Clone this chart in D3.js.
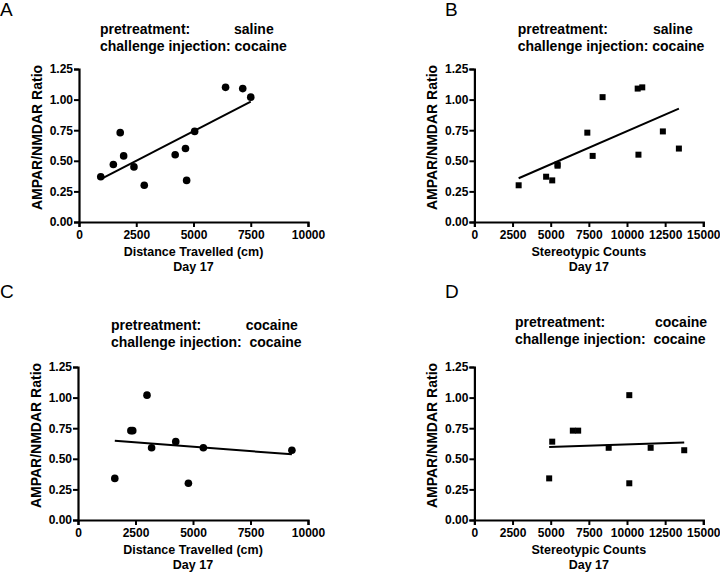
<!DOCTYPE html>
<html><head><meta charset="utf-8">
<script src="https://cdn.jsdelivr.net/npm/d3@7"></script>
<style>body{margin:0;background:#fff}svg{display:block}text{font-family:Arial,"Liberation Sans",sans-serif;fill:#000}</style>
</head><body>
<svg id="c" width="720" height="572"></svg>
<script>
// Data
const yTicks = [0, 0.25, 0.5, 0.75, 1.0, 1.25];
const distTicks = [0, 2500, 5000, 7500, 10000];
const stereoTicks = [0, 2500, 5000, 7500, 10000, 12500, 15000];

const aDistance = [950, 1500, 1800, 1950, 2400, 2850, 4200, 4650, 4700, 5050, 6400, 7150, 7500];
const aRatio    = [0.37, 0.47, 0.73, 0.54, 0.45, 0.30, 0.55, 0.60, 0.34, 0.74, 1.10, 1.09, 1.02];

const bStereo = [2900, 4700, 5100, 5450, 5450, 7400, 7750, 8400, 10700, 11000, 10750, 12350, 13400];
const bRatio  = [0.30, 0.37, 0.34, 0.47, 0.46, 0.73, 0.54, 1.02, 1.09, 1.10, 0.55, 0.74, 0.60];

const cDistance = [1600, 2300, 2380, 3000, 3200, 4250, 4800, 5450, 9300];
const cRatio    = [0.34, 0.73, 0.73, 1.02, 0.59, 0.64, 0.30, 0.59, 0.57];

const dStereo = [4900, 5100, 6450, 6800, 8800, 10150, 10150, 11550, 13750];
const dRatio  = [0.34, 0.64, 0.73, 0.73, 0.59, 1.02, 0.30, 0.59, 0.57];

const panels = [
  {label:"A", xs:aDistance, ys:aRatio, ticks:distTicks, xmax:10000, xTitle:"Distance Travelled (cm)", marker:"circle",
   pre:"saline", ch:"challenge injection: cocaine", box:{l:79, r:308, t:69, b:222}, lab:[0,16], title:[100, 34, 234]},
  {label:"B", xs:bStereo, ys:bRatio, ticks:stereoTicks, xmax:15000, xTitle:"Stereotypic Counts", marker:"square",
   pre:"saline", ch:"challenge injection: cocaine", box:{l:474.4, r:703.3, t:69, b:222}, lab:[445,16], title:[517.7, 34, 653]},
  {label:"C", xs:cDistance, ys:cRatio, ticks:distTicks, xmax:10000, xTitle:"Distance Travelled (cm)", marker:"circle",
   pre:"cocaine", ch:"challenge injection:  cocaine", box:{l:78, r:308, t:367, b:520}, lab:[0,298], title:[111, 330, 245.7]},
  {label:"D", xs:dStereo, ys:dRatio, ticks:stereoTicks, xmax:15000, xTitle:"Stereotypic Counts", marker:"square",
   pre:"cocaine", ch:"challenge injection:  cocaine", box:{l:474.4, r:703.3, t:367, b:520}, lab:[445,298], title:[515, 327, 655]}
];

const svg = d3.select("#c");

function fit(xs, ys){
  const mx = d3.mean(xs), my = d3.mean(ys);
  let sxy=0, sxx=0;
  xs.forEach((x,i)=>{ sxy += (x-mx)*(ys[i]-my); sxx += (x-mx)*(x-mx); });
  const m = sxy/sxx; return {m, b: my - m*mx};
}

panels.forEach(p => {
  const g = svg.append("g");
  const x = d3.scaleLinear().domain([0, p.xmax]).range([p.box.l, p.box.r]);
  const y = d3.scaleLinear().domain([0, 1.25]).range([p.box.b, p.box.t]);

  g.append("text").attr("x", p.lab[0]).attr("y", p.lab[1]).attr("font-size", 19).text(p.label);

  g.append("text").attr("x", p.title[0]).attr("y", p.title[1]).attr("font-size", 14).attr("font-weight","bold").text("pretreatment:");
  g.append("text").attr("x", p.title[2]).attr("y", p.title[1]).attr("font-size", 14).attr("font-weight","bold").text(p.pre);
  g.append("text").attr("x", p.title[0]).attr("y", p.title[1]+17).attr("font-size", 14).attr("font-weight","bold")
    .style("white-space","pre").attr("xml:space","preserve").text(p.ch);

  const xa = g.append("g").attr("transform", `translate(0,${p.box.b})`)
    .call(d3.axisBottom(x).tickValues(p.ticks).tickFormat(d3.format("d")).tickSizeOuter(0).tickSize(5).tickPadding(3));
  const ya = g.append("g").attr("transform", `translate(${p.box.l},0)`)
    .call(d3.axisLeft(y).tickValues(yTicks).tickFormat(d3.format(".2f")).tickSizeOuter(0).tickSize(5).tickPadding(1));
  [xa, ya].forEach(a => {
    a.select(".domain").attr("stroke","#000").attr("stroke-width",2.2);
    a.selectAll(".tick line").attr("stroke","#000").attr("stroke-width",2);
    a.selectAll(".tick text").attr("font-size",12).attr("font-weight","bold").attr("fill","#000")
      .style("font-family","Arial, 'Liberation Sans', sans-serif");
  });

  const cx = (p.box.l + p.box.r)/2;
  g.append("text").attr("x", cx).attr("y", p.box.b + 34).attr("text-anchor","middle").attr("font-size",12.5).attr("font-weight","bold").text(p.xTitle);
  g.append("text").attr("x", cx).attr("y", p.box.b + 49).attr("text-anchor","middle").attr("font-size",12.5).attr("font-weight","bold").text("Day 17");

  const yc = (p.box.t + p.box.b)/2 - 8;
  g.append("text").attr("transform", `translate(${p.box.l - 37},${yc}) rotate(-90)`).attr("text-anchor","middle")
    .attr("font-size",14).attr("font-weight","bold").text("AMPAR/NMDAR Ratio");

  const f = fit(p.xs, p.ys);
  const x0 = d3.min(p.xs), x1 = d3.max(p.xs);
  g.append("line").attr("x1", x(x0)).attr("y1", y(f.m*x0+f.b)).attr("x2", x(x1)).attr("y2", y(f.m*x1+f.b))
    .attr("stroke","#000").attr("stroke-width",2);

  const pts = p.xs.map((v,i)=>[v, p.ys[i]]);
  if (p.marker === "circle") {
    g.selectAll("circle.pt").data(pts).join("circle").attr("class","pt")
      .attr("cx", d=>x(d[0])).attr("cy", d=>y(d[1])).attr("r", 3.8).attr("fill","#000");
  } else {
    g.selectAll("rect.pt").data(pts).join("rect").attr("class","pt")
      .attr("x", d=>x(d[0])-3).attr("y", d=>y(d[1])-3).attr("width",6).attr("height",6).attr("fill","#000");
  }
});
</script>
</body></html>
